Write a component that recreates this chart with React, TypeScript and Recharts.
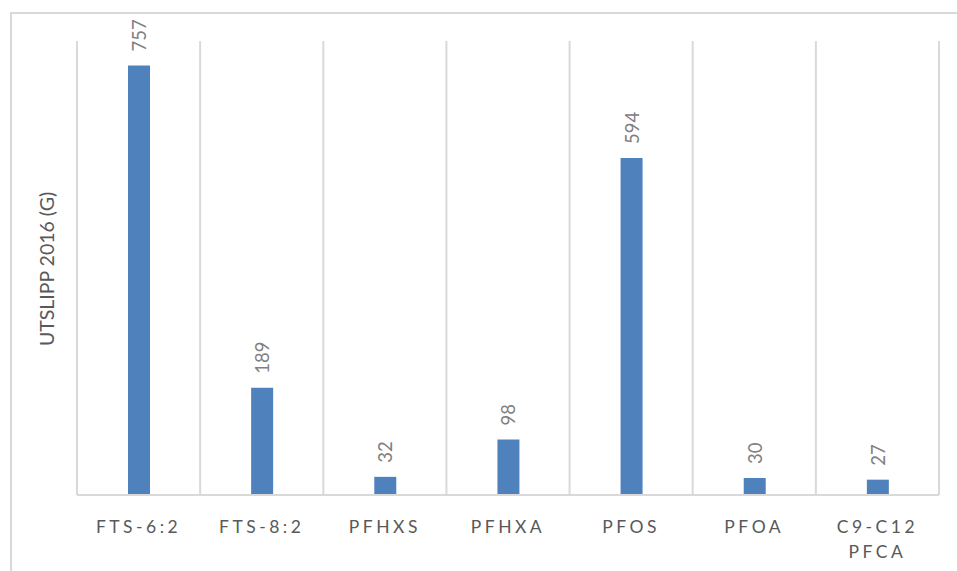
import React from "react";
import {
  BarChart,
  Bar,
  XAxis,
  YAxis,
  CartesianGrid,
  LabelList,
} from "recharts";

const categories = [
  "FTS-6:2",
  "FTS-8:2",
  "PFHXS",
  "PFHXA",
  "PFOS",
  "PFOA",
  "C9-C12 PFCA",
];
const utslipp = [757, 189, 32, 98, 594, 30, 27];

const data = categories.map((name, i) => ({ name, value: utslipp[i] }));

const FONT = "Lato, 'Open Sans', sans-serif";

// category tick, wraps on spaces like the original
function CategoryTick({ x, y, payload }: any) {
  const lines = String(payload.value).split(" ");
  return (
    <text
      x={x}
      y={y + 30}
      textAnchor="middle"
      fill="#595959"
      fontSize={17.5}
      fontFamily={FONT}
      letterSpacing={3.5}
    >
      {lines.map((l, i) => (
        <tspan key={i} x={x} dy={i === 0 ? 0 : 25}>
          {l}
        </tspan>
      ))}
    </text>
  );
}

// rotated value label above each bar
function ValueLabel({ x, y, width, value }: any) {
  const cx = x + width / 2;
  const cy = y - 14;
  return (
    <text
      x={cx}
      y={cy}
      transform={`rotate(-90, ${cx}, ${cy})`}
      textAnchor="start"
      dominantBaseline="central"
      fill="#808080"
      fontSize={18.5}
      fontFamily={FONT}
    >
      {value}
    </text>
  );
}

export default function App() {
  return (
    <div
      style={{
        position: "absolute",
        left: 0,
        top: 0,
        width: 957,
        height: 571,
        background: "#fff",
        overflow: "hidden",
      }}
    >
      {/* chart frame */}
      <div
        style={{
          position: "absolute",
          left: 10,
          top: 12,
          width: 960,
          height: 580,
          borderLeft: "2px solid #d9d9d9",
          borderTop: "2px solid #d9d9d9",
        }}
      />
      <div
        style={{
          position: "absolute",
          left: 28,
          top: 269,
          transform: "translate(-50%, -50%) rotate(-90deg)",
          transformOrigin: "center",
          whiteSpace: "nowrap",
          fontFamily: FONT,
          fontSize: 19.5,
          color: "#595959",
          marginLeft: 18,
        }}
      >
        UTSLIPP 2016 (G)
      </div>
      <div style={{ position: "absolute", left: 0, top: 0 }}>
        <BarChart
          width={957}
          height={571}
          data={data}
          margin={{ top: 41, right: 18, bottom: 16, left: 77 }}
          barCategoryGap={0}
        >
          <CartesianGrid
            horizontal={false}
            stroke="#d9d9d9"
            strokeWidth={2}
            verticalCoordinatesGenerator={({ offset }: any) =>
              Array.from(
                { length: categories.length + 1 },
                (_, i) => offset.left + (i * offset.width) / categories.length
              )
            }
          />
          <XAxis
            dataKey="name"
            height={60}
            interval={0}
            tickLine={false}
            axisLine={{ stroke: "#d9d9d9", strokeWidth: 2 }}
            tick={<CategoryTick />}
          />
          <YAxis hide domain={[0, 800]} />
          <Bar
            dataKey="value"
            fill="#4f81bd"
            barSize={22}
            isAnimationActive={false}
          >
            <LabelList dataKey="value" content={<ValueLabel />} />
          </Bar>
        </BarChart>
      </div>
    </div>
  );
}
